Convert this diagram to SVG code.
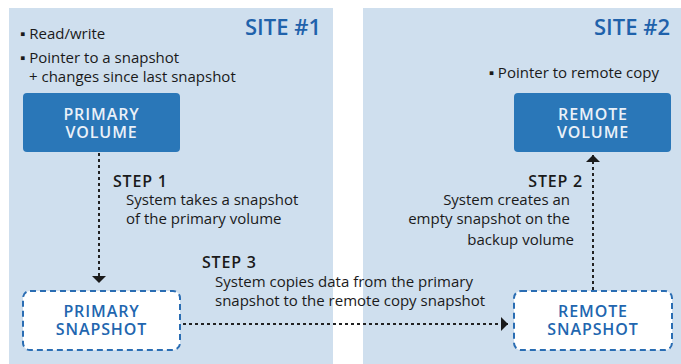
<svg xmlns="http://www.w3.org/2000/svg" width="681" height="364" viewBox="0 0 681 364">
<defs>
<style>
.panel{fill:#cfdfee}
.site{font-family:"Open Sans",sans-serif;font-size:22px;font-weight:600;fill:#1f62ab}
.txt{font-family:"Open Sans",sans-serif;font-size:15px;fill:#1a1a1a}
.step{font-family:"Open Sans",sans-serif;font-size:16px;font-weight:600;fill:#1a1a1a;letter-spacing:0.8px}
.vol{fill:#2a77b8}
.volt{font-family:"Open Sans",sans-serif;font-size:16px;font-weight:600;fill:#eaf1f8;text-anchor:middle;letter-spacing:0.9px}
.snap{fill:#ffffff;stroke:#2a6db3;stroke-width:2;stroke-dasharray:6 4}
.snapt{font-family:"Open Sans",sans-serif;font-size:16px;font-weight:600;fill:#2266af;text-anchor:middle;letter-spacing:0.9px}
.conn{fill:none;stroke:#222;stroke-width:2;stroke-dasharray:3 3}
</style>
<marker id="ah" viewBox="0 0 7 14" refX="7" refY="7" markerWidth="7" markerHeight="14" markerUnits="userSpaceOnUse" orient="auto">
<path d="M0,0 L7,7 L0,14 z" fill="#1a1a1a"/>
</marker>
</defs>
<rect width="681" height="364" fill="#ffffff"/>
<g id="site1">
<rect class="panel" x="9" y="8" width="324" height="356"/>
<text class="site" x="321" y="35" text-anchor="end">SITE #1</text>
<text class="txt" x="20" y="39">▪ Read/write</text>
<text class="txt" x="20" y="63">▪ Pointer to a snapshot</text>
<text class="txt" x="29" y="82">+ changes since last snapshot</text>
</g>
<g id="site2">
<rect class="panel" x="363" y="8" width="318" height="356"/>
<text class="site" x="670" y="35" text-anchor="end">SITE #2</text>
<text class="txt" x="659" y="78" text-anchor="end">▪ Pointer to remote copy</text>
</g>
<g id="primary-volume">
<rect class="vol" x="23" y="93" width="157" height="59" rx="4"/>
<text class="volt" x="101.5" y="120">PRIMARY</text>
<text class="volt" x="101.5" y="138">VOLUME</text>
</g>
<g id="remote-volume">
<rect class="vol" x="514" y="93" width="157" height="59" rx="4"/>
<text class="volt" x="593" y="120">REMOTE</text>
<text class="volt" x="593" y="138">VOLUME</text>
</g>
<g id="primary-snapshot">
<rect class="snap" x="23" y="291" width="157" height="59" rx="7"/>
<text class="snapt" x="101.5" y="317">PRIMARY</text>
<text class="snapt" x="101.5" y="335">SNAPSHOT</text>
</g>
<g id="remote-snapshot">
<rect class="snap" x="514" y="291" width="158" height="59" rx="7"/>
<text class="snapt" x="593" y="317">REMOTE</text>
<text class="snapt" x="593" y="335">SNAPSHOT</text>
</g>
<g id="connectors">
<line class="conn" x1="99" y1="153" x2="99" y2="283" marker-end="url(#ah)"/>
<line class="conn" x1="593" y1="290" x2="593" y2="155" marker-end="url(#ah)"/>
<line class="conn" x1="183" y1="324" x2="508" y2="324" marker-end="url(#ah)"/>
</g>
<g id="labels">
<text class="step" x="113" y="187">STEP 1</text>
<text class="txt" x="126" y="205">System takes a snapshot</text>
<text class="txt" x="126" y="224">of the primary volume</text>
<text class="step" x="583" y="187" text-anchor="end">STEP 2</text>
<text class="txt" x="570" y="205" text-anchor="end">System creates an</text>
<text class="txt" x="570" y="224" text-anchor="end">empty snapshot on the</text>
<text class="txt" x="574" y="245" text-anchor="end">backup volume</text>
<text class="step" x="202" y="268">STEP 3</text>
<text class="txt" x="215" y="287">System copies data from the primary</text>
<text class="txt" x="215" y="306">snapshot to the remote copy snapshot</text>
</g>
</svg>
